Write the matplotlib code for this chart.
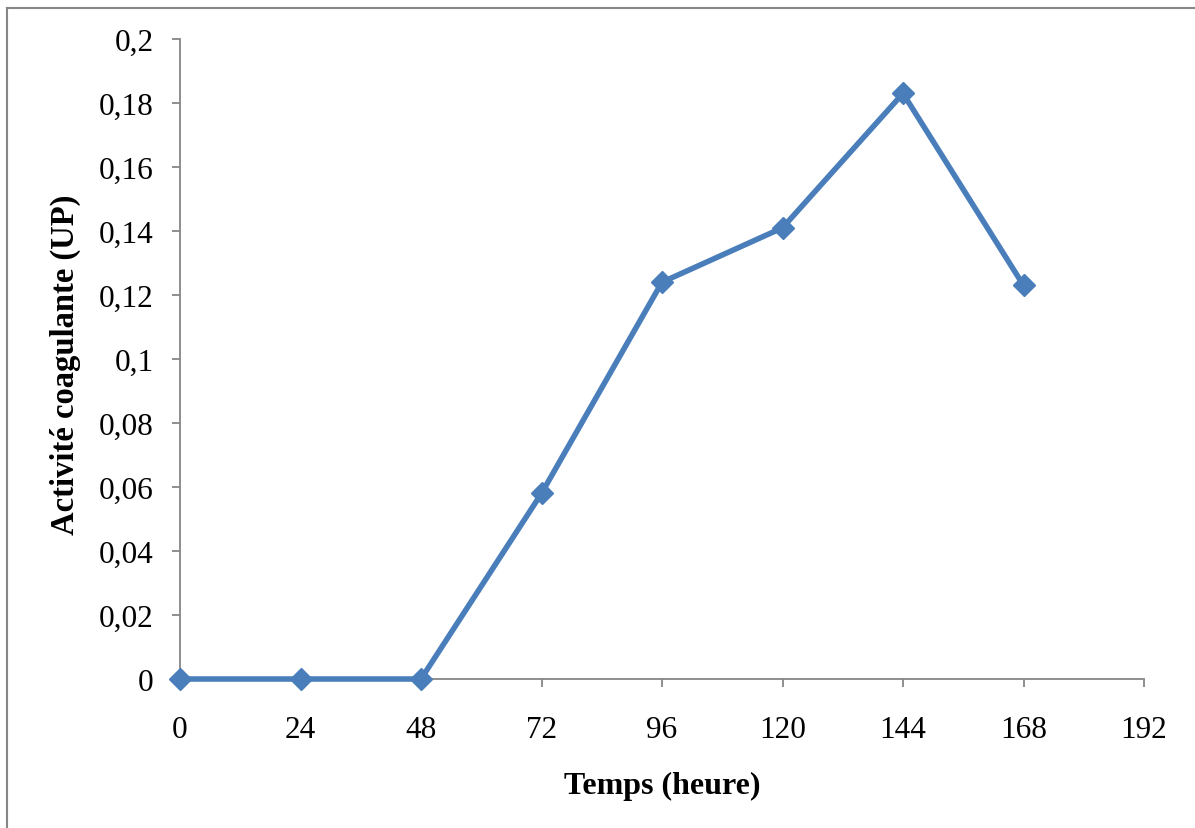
import matplotlib
matplotlib.use("Agg")
import matplotlib.pyplot as plt
from matplotlib.lines import Line2D
from matplotlib.ticker import FuncFormatter

hours = [0, 24, 48, 72, 96, 120, 144, 168]
activity = [0, 0, 0, 0.058, 0.124, 0.141, 0.183, 0.123]
x_ticks = [0, 24, 48, 72, 96, 120, 144, 168, 192]
y_ticks = [0, 0.02, 0.04, 0.06, 0.08, 0.1, 0.12, 0.14, 0.16, 0.18, 0.2]

plt.rcParams['font.family'] = ['Liberation Serif', 'DejaVu Serif']

W, H = 1195, 829
fig = plt.figure(figsize=(W / 100, H / 100), dpi=100)
ax = fig.add_axes([180 / W, (H - 680) / H, (1144 - 180) / W, (680 - 40) / H])

ax.plot(hours, activity, color='#4A7EBB', linewidth=4, marker='D',
        markersize=11, markerfacecolor='#4A7EBB', markeredgecolor='#4A7EBB',
        clip_on=False, zorder=5)

ax.set_xlim(0, 192)
ax.set_ylim(0, 0.2)
ax.set_xticks(x_ticks)
ax.set_yticks(y_ticks)

def fmt(v, pos):
    s = ('%.2f' % v).rstrip('0').rstrip('.')
    return s.replace('.', ',')

ax.yaxis.set_major_formatter(FuncFormatter(fmt))
ax.xaxis.set_major_formatter(FuncFormatter(lambda v, p: '%d' % v))

for s in ['top', 'right']:
    ax.spines[s].set_visible(False)
for s in ['left', 'bottom']:
    ax.spines[s].set_color('#868686')
    ax.spines[s].set_linewidth(1.3)

ax.tick_params(axis='both', direction='out', length=6, width=1.3,
               color='#868686', labelsize=22.5, labelcolor='black')
ax.tick_params(axis='x', pad=20)
ax.tick_params(axis='y', pad=13)

ax.set_xlabel('Temps (heure)', fontsize=23, fontweight='bold', labelpad=19)
ax.set_ylabel('Activité coagulante (UP)', fontsize=23.5, fontweight='bold', labelpad=13)
ax.yaxis.label.set_y(0.492)

# outer chart border (top and left visible)
fig.add_artist(Line2D([7 / W, 1.0], [(H - 9) / H, (H - 9) / H],
                      transform=fig.transFigure, color='#868686', linewidth=1.5))
fig.add_artist(Line2D([7 / W, 7 / W], [0, (H - 9) / H],
                      transform=fig.transFigure, color='#868686', linewidth=1.5))

fig.savefig('out.png', dpi=100)
